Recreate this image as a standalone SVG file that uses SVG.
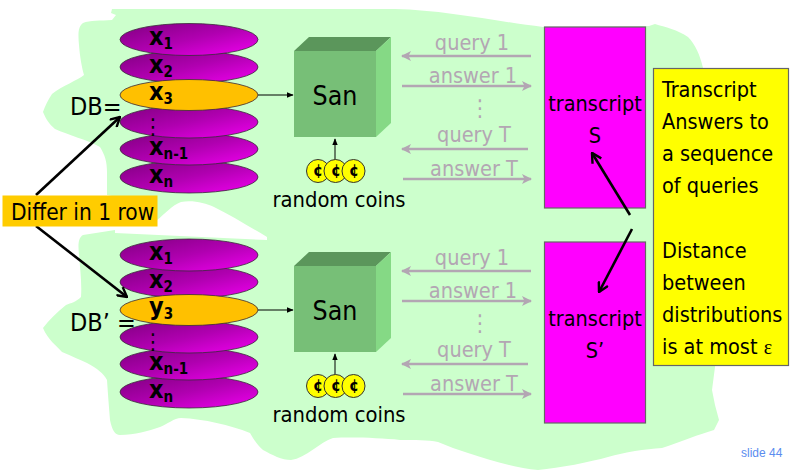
<svg xmlns="http://www.w3.org/2000/svg" width="795" height="471" viewBox="0 0 795 471">
<style>
text{font-family:"DejaVu Sans","Liberation Sans",sans-serif;font-stretch:condensed;fill:#000}
.row{stroke:#3a2a3a;stroke-width:.8}
.x{font-weight:700;font-size:25px}
.sub{font-weight:700;font-size:15px}
.big{font-size:21.5px}
.db{font-size:25px}
.dots{font-size:22px;text-anchor:middle}
.san{font-size:26.500px;text-anchor:middle}
.rc{font-size:21.800px;text-anchor:middle}
.m{text-anchor:middle}
.q{font-size:21.500px;fill:#b3a6b3;text-anchor:middle}
.gd{font-size:23px;fill:#b3a6b3;text-anchor:middle}
.gl{stroke:#b3a6b3;stroke-width:2.5;fill:none}
.thin{stroke:#000;stroke-width:1;fill:none;marker-end:url(#t)}
.thick{stroke:#000;stroke-width:2.6;fill:none;marker-end:url(#o)}
.coin{fill:#ffff00;stroke:#333;stroke-width:1}
.c{font-weight:700;font-size:16px;text-anchor:middle}
.tr{fill:#ff00ff;stroke:#666;stroke-width:1.2}
</style>
<defs>
<linearGradient id="p" x1="0" y1="0" x2="1" y2="1"><stop offset="0" stop-color="#800080"/><stop offset=".5" stop-color="#b000b0"/><stop offset="1" stop-color="#f000f0"/></linearGradient>
<marker id="g" viewBox="0 0 10 10" refX="9" refY="5" markerWidth="4" markerHeight="4" orient="auto"><path d="M0 0L10 5L0 10L2.5 5Z" fill="#b3a6b3"/></marker>
<marker id="t" viewBox="0 0 10 10" refX="9" refY="5" markerWidth="7" markerHeight="7" orient="auto"><path d="M0 1L10 5L0 9Z" fill="#000"/></marker>
<marker id="o" markerUnits="userSpaceOnUse" viewBox="0 0 14 14" refX="13" refY="7" markerWidth="12" markerHeight="12" orient="auto"><path d="M2 1L13 7L2 13" fill="none" stroke="#000" stroke-width="2.8"/></marker>
</defs>

<path id="blob" fill="#ccffcc" d="M112 9L111 13L116 15L112 20C100 21 90 20 83 23C78 27 78 33 79 45C80 58 82 68 84 75C78 80 62 86 52 94C48 100 45 106 43 112C46 119 49 124 55 129C68 135 88 140 100 147C105 155 107 162 107 172L107 195L157 205L157 220C165 214 172 205 181 202C193 200 205 203 214 207C232 216 250 227 267 237L267 240L115 233L115 230L83 235C78 238 78 245 79 255C80 268 82 283 81 297C76 302 71 303 66 305C57 312 49 320 43 328C48 340 56 345 62 352C72 356 80 360 87 363C97 368 104 374 107 380C108 395 109 408 110 420C112 430 115 435 120 435C135 435 148 431 160 427C168 424 174 418 181 418C204 419 230 425 250 433C254 440 258 446 263 450C272 455 282 460 291 460C306 458 320 442 333 438C352 437 380 438 400 440C415 440 428 440 438 442C448 446 458 450 468 453C490 460 515 468 538 470C560 468 590 462 608 457C625 452 645 449 662 448C680 442 700 434 714 430L719 420L715 405L712 390L715 367L720 300L720 100L703 68C700 55 695 44 688 37C678 30 665 27 655 24L649 26L543 27C500 22 445 10 395 9Z"/>

<g id="connectors">
<line class="thin" x1="258" y1="95" x2="293" y2="95"/>
<line class="thin" x1="258" y1="310" x2="293" y2="310"/>
<line class="thin" x1="335" y1="160" x2="335" y2="139"/>
<line class="thin" x1="335" y1="375" x2="335" y2="354"/>
<line class="gl" marker-end="url(#g)" x1="531" y1="56" x2="402" y2="56"/>
<line class="gl" marker-end="url(#g)" x1="402" y1="86" x2="531" y2="86"/>
<line class="gl" marker-end="url(#g)" x1="528" y1="149" x2="402" y2="149"/>
<line class="gl" marker-end="url(#g)" x1="403" y1="179" x2="531" y2="179"/>
<line class="gl" marker-end="url(#g)" x1="531" y1="271" x2="402" y2="271"/>
<line class="gl" marker-end="url(#g)" x1="402" y1="301" x2="531" y2="301"/>
<line class="gl" marker-end="url(#g)" x1="528" y1="364" x2="402" y2="364"/>
<line class="gl" marker-end="url(#g)" x1="403" y1="394" x2="531" y2="394"/>
</g>

<g id="db">
<text class="db" x="70" y="115">DB=</text>
<ellipse class="row" cx="189" cy="177" rx="69" ry="16" fill="url(#p)"/>
<ellipse class="row" cx="189" cy="149" rx="69" ry="16" fill="url(#p)"/>
<ellipse class="row" cx="189" cy="122" rx="69" ry="16" fill="url(#p)"/>
<ellipse class="row" cx="189" cy="67" rx="69" ry="16" fill="url(#p)"/>
<ellipse class="row" cx="189" cy="39.5" rx="69" ry="16" fill="url(#p)"/>
<ellipse class="row" cx="189" cy="95" rx="69" ry="15.5" fill="#ffc000"/>
<text class="x" x="149" y="45">x<tspan class="sub" dy="4">1</tspan></text>
<text class="x" x="149" y="73">x<tspan class="sub" dy="4">2</tspan></text>
<text class="x" x="149" y="100">x<tspan class="sub" dy="4">3</tspan></text>
<text class="dots" x="153" y="134">⋮</text>
<text class="x" x="149" y="155">x<tspan class="sub" dy="4">n-1</tspan></text>
<text class="x" x="149" y="183">x<tspan class="sub" dy="4">n</tspan></text>
</g>

<g id="dbprime">
<text class="db" x="70" y="331">DB’ =</text>
<ellipse class="row" cx="189" cy="392" rx="69" ry="16" fill="url(#p)"/>
<ellipse class="row" cx="189" cy="364" rx="69" ry="16" fill="url(#p)"/>
<ellipse class="row" cx="189" cy="337" rx="69" ry="16" fill="url(#p)"/>
<ellipse class="row" cx="189" cy="282" rx="69" ry="16" fill="url(#p)"/>
<ellipse class="row" cx="189" cy="255" rx="69" ry="16" fill="url(#p)"/>
<ellipse class="row" cx="189" cy="310" rx="69" ry="15.5" fill="#ffc000"/>
<text class="x" x="149" y="260">x<tspan class="sub" dy="4">1</tspan></text>
<text class="x" x="149" y="288">x<tspan class="sub" dy="4">2</tspan></text>
<text class="x" x="149" y="315">y<tspan class="sub" dy="4">3</tspan></text>
<text class="dots" x="153" y="349">⋮</text>
<text class="x" x="149" y="370">x<tspan class="sub" dy="4">n-1</tspan></text>
<text class="x" x="149" y="398">x<tspan class="sub" dy="4">n</tspan></text>
</g>

<g id="san1">
<path d="M294 51L309 37H391L376 51Z" fill="#5b965b"/>
<path d="M376 51L391 37V123L376 137Z" fill="#85d985"/>
<rect x="294" y="51" width="82" height="86" fill="#77bf77"/>
<text x="335" y="105" class="san">San</text>
</g>
<g id="san2">
<path d="M294 266L309 252H391L376 266Z" fill="#5b965b"/>
<path d="M376 266L391 252V338L376 352Z" fill="#85d985"/>
<rect x="294" y="266" width="82" height="86" fill="#77bf77"/>
<text x="335" y="320" class="san">San</text>
</g>

<g id="coins1">
<circle class="coin" cx="318" cy="171" r="11.5"/><circle class="coin" cx="335.500" cy="171" r="11.5"/><circle class="coin" cx="353.500" cy="171" r="11.5"/>
<text class="c" x="318" y="176">¢</text><text class="c" x="336" y="176">¢</text><text class="c" x="354" y="176">¢</text>
<text x="339" y="207" class="rc">random coins</text>
</g>
<g id="coins2">
<circle class="coin" cx="318" cy="386" r="11.5"/><circle class="coin" cx="335.500" cy="386" r="11.5"/><circle class="coin" cx="353.500" cy="386" r="11.5"/>
<text class="c" x="318" y="391">¢</text><text class="c" x="336" y="391">¢</text><text class="c" x="354" y="391">¢</text>
<text x="339" y="422" class="rc">random coins</text>
</g>

<g id="queries1">
<text class="q" x="472" y="50">query 1</text>
<text class="q" x="473" y="83">answer 1</text>
<text class="gd" x="480" y="116">⋮</text>
<text class="q" x="474" y="142">query T</text>
<text class="q" x="474" y="176">answer T</text>
</g>
<g id="queries2">
<text class="q" x="472" y="265">query 1</text>
<text class="q" x="473" y="298">answer 1</text>
<text class="gd" x="480" y="331">⋮</text>
<text class="q" x="474" y="357">query T</text>
<text class="q" x="474" y="391">answer T</text>
</g>

<g id="transcript1">
<rect class="tr" x="544.500" y="27" width="101" height="181"/>
<text x="595" y="111" class="m big">transcript</text>
<text x="595" y="143" class="m big">S</text>
</g>
<g id="transcript2">
<rect class="tr" x="544.500" y="242" width="101" height="181"/>
<text x="595" y="326" class="m big">transcript</text>
<text x="595" y="358" class="m big">S’</text>
</g>

<g id="note">
<rect x="653.500" y="68.500" width="135" height="297" fill="#ffff00" stroke="#666" stroke-width="1.2"/>
<text class="big" x="662" y="97">Transcript</text>
<text class="big" x="662" y="129">Answers to</text>
<text class="big" x="662" y="161">a sequence</text>
<text class="big" x="662" y="193">of queries</text>
<text class="big" x="662" y="258">Distance</text>
<text class="big" x="662" y="290">between</text>
<text class="big" x="662" y="322">distributions</text>
<text class="big" x="662" y="354">is at most <tspan style="font-family:'Liberation Serif',serif;font-size:20px">ε</tspan></text>
</g>

<g id="thick-connectors">
<line class="thick" x1="36" y1="195" x2="120" y2="117"/>
<line class="thick" x1="36" y1="226" x2="127" y2="297"/>
<line class="thick" x1="630" y1="215" x2="592" y2="153"/>
<line class="thick" x1="632" y1="229" x2="599" y2="292"/>
</g>

<g id="differ">
<rect x="2.500" y="195.500" width="155" height="31" fill="#ffcc00"/>
<text x="11" y="220" style="font-size:22.500px">Differ in 1 row</text>
</g>

<text x="741" y="457" style="font-size:12px;fill:#5b8def;font-family:'Liberation Sans',sans-serif">slide 44</text>
</svg>
